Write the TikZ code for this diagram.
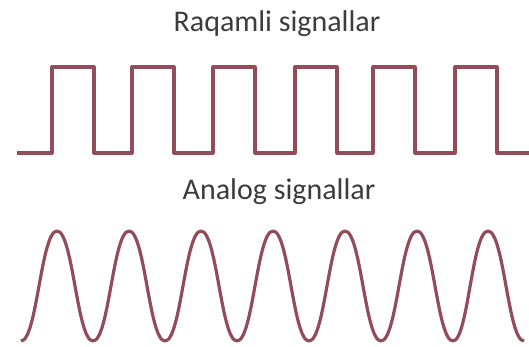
\documentclass[tikz,border=0pt]{standalone}
\usepackage{fontspec}
\setmainfont{Carlito}
\usepackage{tikz}
\usepackage{xcolor}
\usetikzlibrary{positioning}
\definecolor{wavered}{RGB}{146,76,90}
\definecolor{labelgray}{RGB}{60,60,60}

\begin{document}
\begin{tikzpicture}[x=1pt,y=-1pt,
          wave/.style={draw=wavered,line width=3.2pt,line join=round},
          title/.style={font=\fontsize{30}{32}\selectfont,text=labelgray,inner sep=0pt}]
        \useasboundingbox (0,0) rectangle (529,347);
        % square wave
        \node[title] (digital) at (277,24) {Raqamli signallar};
        \draw[wave] (17,153)
          \foreach \r in {52,132,213,295,373,455} {
            -- (\r,153) -- (\r,67) -- (\r+42,67) -- (\r+42,153)}
          -- (529,153);
        % smooth wave, trough to peak to trough
        \node[title] (analog) at (279,192) {Analog signallar};
        \draw[wave] (21,341)
          \foreach \p in {57,129,201,273,345,417,488} {
            .. controls (\p-20,341) and (\p-16,231) .. (\p,231)
            .. controls (\p+16,231) and (\p+20,341) .. (\p+36,341)};
      \end{tikzpicture}
\end{document}
